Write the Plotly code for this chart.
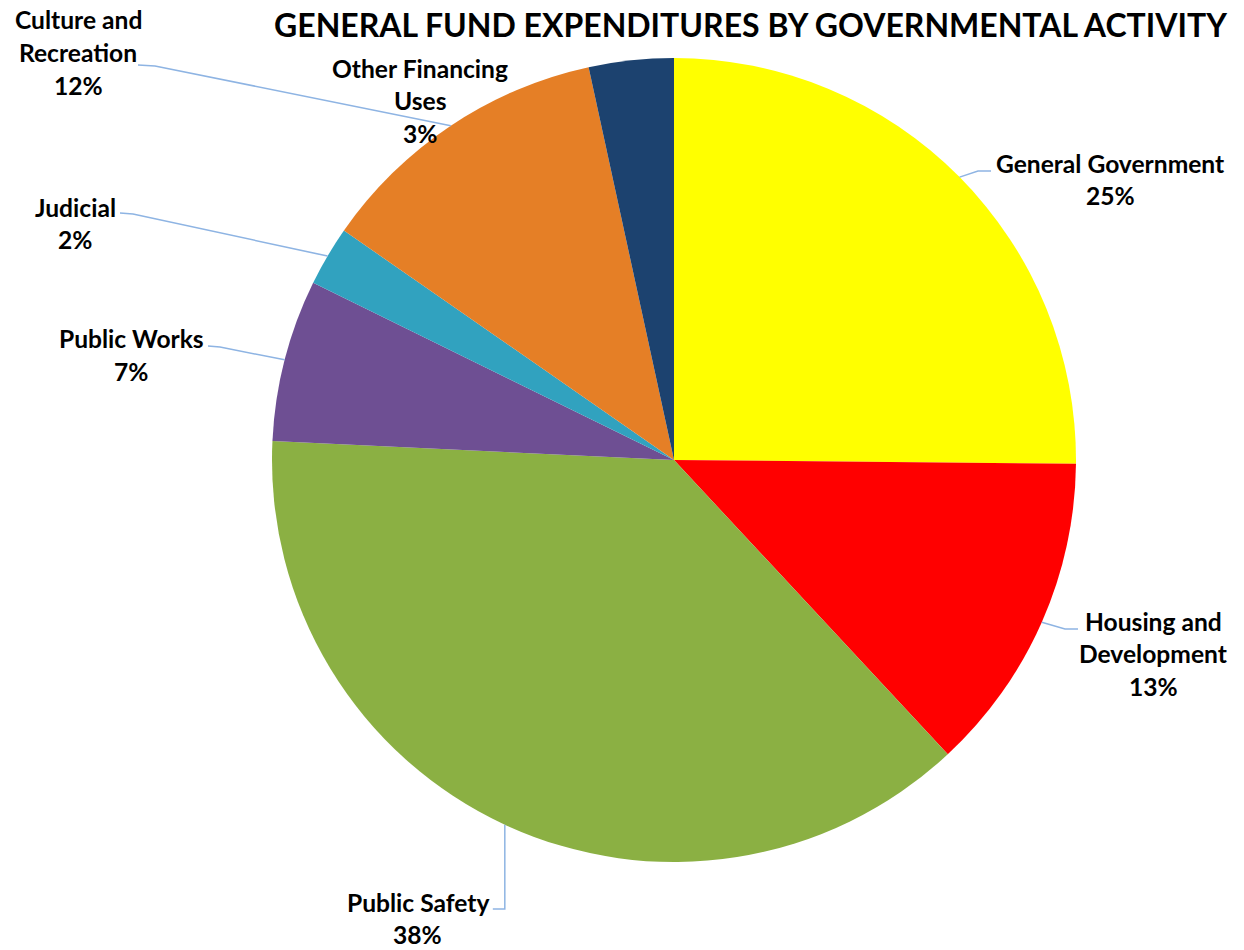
import math
import plotly.graph_objects as go

# Spending shares by governmental activity (percent of general fund)
categories = [
    "General Government",
    "Housing and Development",
    "Public Safety",
    "Public Works",
    "Judicial",
    "Culture and Recreation",
    "Other Financing Uses",
]
shares = [25.1, 12.9, 37.6, 6.5, 2.4, 11.9, 3.4]
title_text = "GENERAL FUND EXPENDITURES BY GOVERNMENTAL ACTIVITY"

colors = ["#FFFF00", "#FF0000", "#8BB043", "#6E4F93", "#31A2BF", "#E57F26", "#1C426F"]

W, H = 1244, 950
CX, CY, R = 674, 460, 402          # pie centre and radius in pixels
FONT = "Lato"
LABEL_SIZE = 24.6
TITLE_SIZE = 32
LINE_GAP = 32.5
LEADER_COLOR = "#8EB4E3"

# how each category label is broken into lines
label_lines = {
    "General Government": ["General Government"],
    "Housing and Development": ["Housing and", "Development"],
    "Public Safety": ["Public Safety"],
    "Public Works": ["Public Works"],
    "Judicial": ["Judicial"],
    "Culture and Recreation": ["Culture and", "Recreation"],
    "Other Financing Uses": ["Other Financing", "Uses"],
}
# label block: centre x, first line centre y (pixels)
label_pos = {
    "General Government": (1110, 163),
    "Housing and Development": (1153, 621),
    "Public Safety": (418, 902),
    "Public Works": (131, 339),
    "Judicial": (75, 207),
    "Culture and Recreation": (78, 20),
    "Other Financing Uses": (420, 68),
}
# leader lines: (text end, elbow) in pixels; "vertical" drops straight from the slice
leader = {
    "General Government": ((991, 171), (978, 171)),
    "Housing and Development": ((1078, 629), (1065, 629)),
    "Public Safety": "vertical",
    "Public Works": ((208, 346), (220, 347)),
    "Judicial": ((120, 213), (133, 214)),
    "Culture and Recreation": ((138, 65), (155, 66)),
}


def px(x):
    return x / W


def py(y):
    return 1 - y / H


total = sum(shares)

fig = go.Figure(
    go.Pie(
        labels=categories,
        values=shares,
        sort=False,
        direction="clockwise",
        rotation=0,
        marker=dict(colors=colors, line=dict(width=0)),
        textinfo="none",
        hoverinfo="label+percent",
        domain=dict(x=[px(CX - R), px(CX + R)], y=[py(CY + R), py(CY - R)]),
        showlegend=False,
    )
)

annotations = []
shapes = []
cum = 0.0
for name, val in zip(categories, shares):
    mid = (cum + val / 2) / total * 2 * math.pi
    cum += val
    ex = CX + R * math.sin(mid)
    ey = CY - R * math.cos(mid)

    pct = f"{round(val / total * 100)}%"
    lines = label_lines[name] + [pct]
    lx, ly = label_pos[name]
    for i, txt in enumerate(lines):
        annotations.append(dict(
            x=px(lx), y=py(ly + i * LINE_GAP), xref="paper", yref="paper",
            text=f"<b>{txt}</b>", showarrow=False, xanchor="center", yanchor="middle",
            font=dict(family=FONT, size=LABEL_SIZE, color="#000000"),
        ))

    spec = leader.get(name)
    if spec is None:
        continue
    if spec == "vertical":
        (ax, ay), (bx, by) = (ex - 12, 909), (ex, 909)
    else:
        (ax, ay), (bx, by) = spec
    path = f"M {px(ax)},{py(ay)} L {px(bx)},{py(by)} L {px(ex)},{py(ey)}"
    shapes.append(dict(type="path", path=path, xref="paper", yref="paper",
                       line=dict(color=LEADER_COLOR, width=1.5)))

annotations.append(dict(
    x=px(750), y=py(25), xref="paper", yref="paper",
    text=f"<b>{title_text}</b>", showarrow=False, xanchor="center", yanchor="middle",
    font=dict(family=FONT, size=TITLE_SIZE, color="#000000"),
))

fig.update_layout(
    width=W, height=H,
    margin=dict(l=0, r=0, t=0, b=0),
    paper_bgcolor="white",
    plot_bgcolor="white",
    annotations=annotations,
    shapes=shapes,
)

fig.write_html("out.html")
